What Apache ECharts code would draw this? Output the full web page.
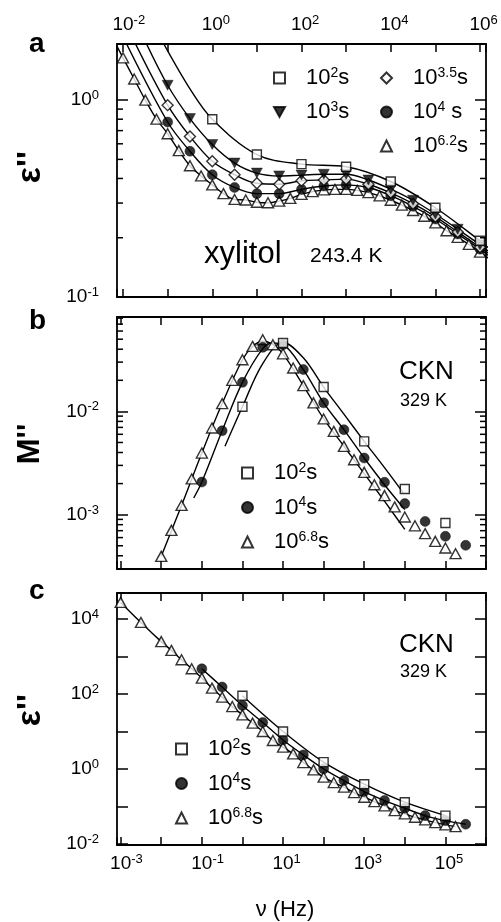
<!DOCTYPE html>
<html><head><meta charset="utf-8">
<script src="https://cdn.jsdelivr.net/npm/echarts@6/dist/echarts.min.js"></script>
<style>html,body{margin:0;padding:0;background:#fff}#c{width:501px;height:922px}</style>
</head><body><div id="c"></div>
<script>
// ---------- Panel a : xylitol 243.4 K (eps'') ----------
const aTriExp = [-2,-1.75,-1.5,-1.25,-1,-0.75,-0.5,-0.25,0,0.25,0.5,0.75,1,1.25,1.5,1.75,2,2.25,2.5,2.75,3,3.25,3.5,3.75,4,4.25,4.5,4.75,5,5.25,5.5,5.75,6];
const aTriVal = [1.64,1.28,1.00,0.80,0.675,0.554,0.464,0.412,0.371,0.335,0.313,0.311,0.303,0.301,0.307,0.317,0.332,0.343,0.350,0.352,0.352,0.348,0.339,0.326,0.310,0.293,0.275,0.257,0.238,0.217,0.201,0.185,0.169];
const aHalfExp = [-1,-0.5,0,0.5,1,1.5,2,2.5,3,3.5,4,4.5,5,5.5,6];
const aCirVal = [0.774,0.55,0.418,0.36,0.335,0.335,0.352,0.366,0.371,0.36,0.327,0.289,0.249,0.209,0.175];
const aDiaVal = [0.943,0.654,0.489,0.418,0.378,0.374,0.389,0.393,0.397,0.374,0.338,0.298,0.256,0.214,0.179];
const aInvVal = [1.19,0.806,0.595,0.479,0.426,0.412,0.416,0.42,0.42,0.393,0.353,0.31,0.264,0.221,0.184];
const aSqExp = [0,1,2,3,4,5,6];
const aSqVal = [0.80,0.529,0.473,0.459,0.386,0.284,0.193];
// fit-curve ends (outside the markers)
const aFitTriHead = [[-2.2, 2.0]],  aFitTriTail = [[6.2, 0.157]];
const aFitCirHead = [[-2.0, 2.1]],  aFitCirTail = [[6.2, 0.162]];
const aFitDiaHead = [[-1.8, 2.1]],  aFitDiaTail = [[6.2, 0.166]];
const aFitInvHead = [[-1.55, 2.1]], aFitInvTail = [[6.2, 0.170]];
const aFitSqHead = [[-1.2, 2.15],[-0.5, 1.14]], aFitSqTail = [[6.2, 0.177]];

// ---------- Panel b : CKN 329 K (M'') ----------
const bTriExp = [-2,-1.75,-1.5,-1.25,-1,-0.75,-0.5,-0.25,0,0.25,0.5,0.75,1,1.25,1.5,1.75,2,2.25,2.5,2.75,3,3.25,3.5,3.75,4,4.25,4.5,4.75,5,5.25];
const bTriVal = [3.95e-4,7.05e-4,1.23e-3,2.22e-3,3.95e-3,6.9e-3,0.01188,0.0200,0.0316,0.0426,0.0494,0.0442,0.0361,0.0263,0.01775,0.0121,8.45e-3,6.4e-3,4.58e-3,3.4e-3,2.57e-3,1.95e-3,1.53e-3,1.19e-3,9.5e-4,7.8e-4,6.55e-4,5.52e-4,4.76e-4,4.19e-4];
const bCirExp = [-1,-0.5,0,0.5,1,1.5,2,2.5,3,3.5,4,4.5,5,5.5];
const bCirVal = [2.07e-3,6.5e-3,0.0191,0.0417,0.0442,0.0254,0.0121,6.65e-3,3.54e-3,2.06e-3,1.28e-3,8.6e-4,6.17e-4,5.05e-4];
const bSqExp = [0,1,2,3,4,5];
const bSqVal = [0.0111,0.046,0.0172,5.13e-3,1.77e-3,8.3e-4];
const bFitTriExp = [-2,-1.5,-1,-0.5,0,0.25,0.5,0.75,1,1.5,2,2.5,3,3.5,4];
const bFitTriVal = [3.95e-4,1.23e-3,3.95e-3,0.0119,0.0316,0.0425,0.0478,0.0445,0.0361,0.0178,0.0085,0.0046,0.0025,0.00135,7.2e-4];
const bFitCirExp = [-1.2,-1,-0.5,0,0.5,0.75,1,1.5,2,2.5,3,3.5,4];
const bFitCirVal = [1.45e-3,2.07e-3,6.5e-3,0.0191,0.0405,0.046,0.0445,0.0254,0.0121,6.65e-3,3.54e-3,1.95e-3,1.12e-3];
const bFitSqExp = [-0.43,0,0.5,1,1.5,2,2.5,3,3.5,3.95];
const bFitSqVal = [4.6e-3,0.0111,0.029,0.0465,0.033,0.0172,0.0094,5.13e-3,2.85e-3,1.65e-3];

// ---------- Panel c : CKN 329 K (eps'') ----------
const cTriExp = [-3,-2.5,-2,-1.75,-1.5,-1.25,-1,-0.75,-0.5,-0.25,0,0.25,0.5,0.75,1,1.25,1.5,1.75,2,2.25,2.5,2.75,3,3.25,3.5,3.75,4,4.25,4.5,4.75,5,5.25];
const cTriVal = [2.77e4,8.1e3,2.5e3,1.46e3,822,473,267,144,83,46.5,28,16.9,10.1,5.8,3.86,2.56,1.5,0.957,0.612,0.44,0.331,0.238,0.179,0.137,0.105,0.0787,0.0643,0.0525,0.0445,0.0377,0.0327,0.0295];
const cCirExp = [-1,-0.5,0,0.5,1,1.5,2,2.5,3,3.5,4,4.5,5,5.5];
const cCirVal = [473,154,49.7,17.5,6.0,2.4,1.02,0.497,0.253,0.146,0.0912,0.058,0.0426,0.0341];
const cSqExp = [0,1,2,3,4,5];
const cSqVal = [90,10.1,1.54,0.398,0.132,0.058];

// axis extents (log10) and minor tick positions
const aXExt = [-2.135, 6.135], aYExt = [-1, 0.285];
const bcXExt = [-3.09, 6.0];
const bYExt = [-3.526, -1.086], cYExt = [-2.02, 4.693];
const aMinorY = [0.2,0.3,0.4,0.5,0.6,0.7,0.8,0.9];
const bMinorY = [4e-4,5e-4,6e-4,7e-4,8e-4,9e-4,2e-3,3e-3,4e-3,5e-3,6e-3,7e-3,8e-3,9e-3,2e-2,3e-2,4e-2,5e-2,6e-2,7e-2,8e-2];

const LEG = {
  'a2': ['10','2','s'], 'a3': ['10','3','s'], 'a35': ['10','3.5','s'], 'a4': ['10','4',' s'], 'a62': ['10','6.2','s'],
  'b2': ['10','2','s'], 'b4': ['10','4','s'], 'b68': ['10','6.8','s'],
  'c2': ['10','2','s'], 'c4': ['10','4','s'], 'c68': ['10','6.8','s']
};

const FONT = '"Liberation Sans", Arial, Helvetica, sans-serif';
const P = e => Math.pow(10, e);
const pts = (ex, vals) => ex.map((e, i) => [P(e), vals[i]]);
const ptsPairs = arr => arr.map(p => [P(p[0]), p[1]]);

const axisRich = {
  b: {fontSize: 19, fontFamily: FONT, color: '#000', lineHeight: 22, verticalAlign: 'middle'},
  s: {fontSize: 13, fontFamily: FONT, color: '#000', lineHeight: 14, verticalAlign: 'top'},
  h: {fontSize: 13, fontFamily: FONT, color: 'rgba(0,0,0,0)', lineHeight: 14, verticalAlign: 'top'}
};
function fmt(v, parity, pad) {
  const e = Math.log10(v), r = Math.round(e);
  if (Math.abs(e - r) > 1e-6) return '';
  if (parity !== null && ((r % 2) + 2) % 2 !== parity) return '';
  return (pad ? '{h|' + r + '}' : '') + '{b|10}{s|' + r + '}';
}
const LINE = {color: '#000', width: 1.8};
function xAx(grid, ext, pos, parity, show) {
  return {type: 'log', gridIndex: grid, position: pos, min: P(ext[0]), max: P(ext[1]),
    axisLine: {show: true, onZero: false, lineStyle: LINE},
    axisTick: {show: true, inside: true, length: 8, lineStyle: {color: '#000', width: 1.5}},
    splitLine: {show: false},
    axisLabel: {show: show, margin: 8, formatter: v => fmt(v, parity, true), rich: axisRich}};
}
function yAx(grid, ext, pos, parity, show) {
  return {type: 'log', gridIndex: grid, position: pos, min: P(ext[0]), max: P(ext[1]),
    axisLine: {show: true, onZero: false, lineStyle: LINE},
    axisTick: {show: true, inside: true, length: 11, lineStyle: {color: '#000', width: 1.5}},
    splitLine: {show: false},
    axisLabel: {show: show, margin: 18, formatter: v => fmt(v, parity, false), rich: axisRich}};
}

const OPEN = {color: '#fff', borderColor: '#000', borderWidth: 1.4};
const FILL = {color: '#000', borderColor: '#000', borderWidth: 0.5};
const INV = 'path://M0,0 L10,0 L5,9 Z';
function sc(name, xi, data, symbol, size, style) {
  return {type: 'scatter', name, xAxisIndex: xi, yAxisIndex: xi, data, symbol, symbolSize: size,
    itemStyle: style, z: 5, silent: true};
}
function ln(name, xi, data) {
  return {type: 'line', name, xAxisIndex: xi, yAxisIndex: xi, data, showSymbol: false, symbol: 'none',
    smooth: 0.35, lineStyle: {color: '#000', width: 1.4}, z: 3, silent: true};
}
function minor(xi, xExt, vals, len) {
  return {type: 'custom', xAxisIndex: xi, yAxisIndex: xi, silent: true, clip: false, z: 6,
    data: vals.map(v => [P(xExt[0]), v]),
    renderItem: (params, api) => {
      const v = api.value(1);
      const p1 = api.coord([P(xExt[0]), v]);
      const p2 = api.coord([P(xExt[1]), v]);
      return {type: 'group', children: [
        {type: 'line', shape: {x1: p1[0], y1: p1[1], x2: p1[0] + len, y2: p1[1]}, style: {stroke: '#000', lineWidth: 1.5}},
        {type: 'line', shape: {x1: p2[0], y1: p2[1], x2: p2[0] - len, y2: p2[1]}, style: {stroke: '#000', lineWidth: 1.5}}
      ]};
    }};
}
const legRich = {
  g: {width: 16, fontSize: 22, lineHeight: 24},
  b: {fontSize: 22, fontFamily: FONT, color: '#000', lineHeight: 24, verticalAlign: 'middle'},
  s: {fontSize: 14, fontFamily: FONT, color: '#000', lineHeight: 14, verticalAlign: 'top'}
};
function leg(names, left, top, gap) {
  return {show: true, orient: 'vertical', left, top, padding: 0, itemWidth: 11, itemHeight: 11, itemGap: gap,
    data: names, selectedMode: false,
    formatter: n => '{g| }{b|' + LEG[n][0] + '}{s|' + LEG[n][1] + '}{b|' + LEG[n][2] + '}',
    textStyle: {rich: legRich, fontFamily: FONT, fontSize: 22, color: '#000'}};
}

const option = {
  animation: false,
  backgroundColor: '#fff',
  grid: [
    {left: 117, top: 44, width: 369, height: 253},
    {left: 117, top: 317, width: 369, height: 252},
    {left: 117, top: 593, width: 369, height: 252}
  ],
  xAxis: [
    xAx(0, aXExt, 'bottom', null, false), xAx(0, aXExt, 'top', 0, true),
    xAx(1, bcXExt, 'bottom', null, false), xAx(1, bcXExt, 'top', null, false),
    xAx(2, bcXExt, 'bottom', 1, true), xAx(2, bcXExt, 'top', null, false)
  ],
  yAxis: [
    yAx(0, aYExt, 'left', null, true), yAx(0, aYExt, 'right', null, false),
    yAx(1, bYExt, 'left', null, true), yAx(1, bYExt, 'right', null, false),
    yAx(2, cYExt, 'left', 0, true), yAx(2, cYExt, 'right', null, false)
  ],
  legend: [
    leg(['a2', 'a3'], 273, 66, 11),
    leg(['a35', 'a4', 'a62'], 380, 66, 11),
    leg(['b2', 'b4', 'b68'], 241, 461, 11.5),
    leg(['c2', 'c4', 'c68'], 175, 737, 11.5)
  ],
  series: [
    // panel a fits
    ln('fa62', 0, ptsPairs(aFitTriHead).concat(pts(aTriExp, aTriVal), ptsPairs(aFitTriTail))),
    ln('fa4', 0, ptsPairs(aFitCirHead).concat(pts(aHalfExp, aCirVal), ptsPairs(aFitCirTail))),
    ln('fa35', 0, ptsPairs(aFitDiaHead).concat(pts(aHalfExp, aDiaVal), ptsPairs(aFitDiaTail))),
    ln('fa3', 0, ptsPairs(aFitInvHead).concat(pts(aHalfExp, aInvVal), ptsPairs(aFitInvTail))),
    ln('fa2', 0, ptsPairs(aFitSqHead).concat(pts(aSqExp, aSqVal), ptsPairs(aFitSqTail))),
    sc('a62', 0, pts(aTriExp, aTriVal), 'triangle', [11, 10], OPEN),
    sc('a4', 0, pts(aHalfExp, aCirVal), 'circle', 10, FILL),
    sc('a35', 0, pts(aHalfExp, aDiaVal), 'diamond', 11, OPEN),
    sc('a3', 0, pts(aHalfExp, aInvVal), INV, [11, 10], FILL),
    sc('a2', 0, pts(aSqExp, aSqVal), 'rect', 9, OPEN),
    minor(0, aXExt, aMinorY, 6),
    // panel b
    ln('fb68', 2, pts(bFitTriExp, bFitTriVal)),
    ln('fb4', 2, pts(bFitCirExp, bFitCirVal)),
    ln('fb2', 2, pts(bFitSqExp, bFitSqVal)),
    sc('b68', 2, pts(bTriExp, bTriVal), 'triangle', [11, 10], OPEN),
    sc('b4', 2, pts(bCirExp, bCirVal), 'circle', 10, FILL),
    sc('b2', 2, pts(bSqExp, bSqVal), 'rect', 9, OPEN),
    minor(2, bcXExt, bMinorY, 6),
    // panel c
    ln('fc68', 4, pts(cTriExp, cTriVal)),
    ln('fc4', 4, pts(cCirExp, cCirVal)),
    ln('fc2', 4, pts(cSqExp, cSqVal)),
    sc('c68', 4, pts(cTriExp, cTriVal), 'triangle', [11, 10], OPEN),
    sc('c4', 4, pts(cCirExp, cCirVal), 'circle', 10, FILL),
    sc('c2', 4, pts(cSqExp, cSqVal), 'rect', 9, OPEN)
  ],
  graphic: [
    {type: 'text', x: 29, y: 58, style: {text: 'a', font: 'bold 28px ' + FONT, fill: '#000', verticalAlign: 'bottom'}},
    {type: 'text', x: 29, y: 335, style: {text: 'b', font: 'bold 28px ' + FONT, fill: '#000', verticalAlign: 'bottom'}},
    {type: 'text', x: 29, y: 605, style: {text: 'c', font: 'bold 28px ' + FONT, fill: '#000', verticalAlign: 'bottom'}},
    {type: 'text', x: 31, y: 167, rotation: Math.PI / 2, style: {text: "ε''", font: 'bold 34px ' + FONT, fill: '#000', align: 'center', verticalAlign: 'middle'}},
    {type: 'text', x: 30, y: 444, rotation: Math.PI / 2, style: {text: "M''", font: 'bold 31px ' + FONT, fill: '#000', align: 'center', verticalAlign: 'middle'}},
    {type: 'text', x: 31, y: 710, rotation: Math.PI / 2, style: {text: "ε''", font: 'bold 34px ' + FONT, fill: '#000', align: 'center', verticalAlign: 'middle'}},
    {type: 'text', x: 204, y: 254, style: {text: 'xylitol', font: '31px ' + FONT, fill: '#000', verticalAlign: 'middle'}},
    {type: 'text', x: 310, y: 256, style: {text: '243.4 K', font: '21px ' + FONT, fill: '#000', verticalAlign: 'middle'}},
    {type: 'text', x: 399, y: 372, style: {text: 'CKN', font: '26px ' + FONT, fill: '#000', verticalAlign: 'middle'}},
    {type: 'text', x: 400, y: 401, style: {text: '329 K', font: '18px ' + FONT, fill: '#000', verticalAlign: 'middle'}},
    {type: 'text', x: 399, y: 645, style: {text: 'CKN', font: '26px ' + FONT, fill: '#000', verticalAlign: 'middle'}},
    {type: 'text', x: 400, y: 672, style: {text: '329 K', font: '18px ' + FONT, fill: '#000', verticalAlign: 'middle'}},
    {type: 'text', x: 285, y: 910, style: {text: 'ν (Hz)', font: '22px ' + FONT, fill: '#000', align: 'center', verticalAlign: 'middle'}}
  ]
};
const chart = echarts.init(document.getElementById('c'), null, {renderer: 'canvas'});
chart.setOption(option);
</script></body></html>
